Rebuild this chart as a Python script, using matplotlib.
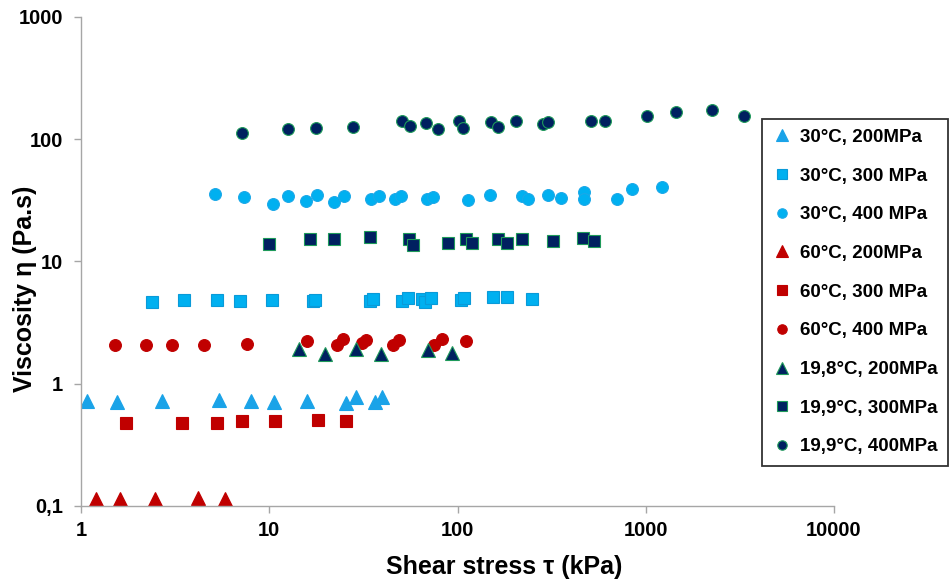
import matplotlib
matplotlib.use("Agg")
import matplotlib.pyplot as plt
from matplotlib.ticker import FixedLocator, NullLocator

plt.rcParams["font.family"] = ["Liberation Sans", "DejaVu Sans"]
plt.rcParams["font.weight"] = "bold"

LIGHT = "#00B0F0"
RED = "#C00000"
NAVY = "#002060"
EDGE_GREEN = "#1E9A5A"

# 30°C
t30_200_x = [1.08, 1.55, 2.69, 5.41, 8.0, 10.6, 15.9, 25.6, 28.9, 36.5, 39.7]
t30_200_y = [0.726, 0.713, 0.726, 0.740, 0.726, 0.713, 0.726, 0.700, 0.783, 0.713, 0.783]

t30_300_x = [2.39, 3.53, 5.28, 7.0, 10.4, 17.1, 17.5, 34.3, 35.6, 50.8, 54.6, 64.9, 67.3,
             72.4, 104, 108, 155, 184, 249]
t30_300_y = [4.68, 4.86, 4.86, 4.77, 4.86, 4.77, 4.86, 4.77, 4.95, 4.77, 5.05, 4.95, 4.68,
             5.05, 4.86, 5.05, 5.14, 5.14, 4.95]

t30_400_x = [5.15, 7.35, 10.5, 12.6, 15.7, 17.9, 22.1, 25.0, 34.7, 38.3, 46.6, 50.2, 68.9,
             74.2, 114, 149, 220, 237, 303, 355, 471, 471, 705, 847, 1222]
t30_400_y = [35.8, 33.8, 29.6, 34.5, 31.4, 35.1, 30.8, 34.5, 32.6, 34.5, 32.6, 34.5, 32.6,
             33.8, 32.0, 35.1, 34.5, 32.6, 35.1, 33.2, 37.2, 32.6, 32.6, 39.3, 40.8]

# 60°C
t60_200_x = [1.20, 1.61, 2.47, 4.19, 5.82]
t60_200_y = [0.113, 0.114, 0.115, 0.117, 0.115]

t60_300_x = [1.73, 3.44, 5.28, 7.17, 10.7, 18.2, 25.6]
t60_300_y = [0.480, 0.480, 0.480, 0.498, 0.498, 0.508, 0.498]

t60_400_x = [1.52, 2.22, 3.04, 4.51, 7.62, 15.9, 22.9, 24.7, 31.1, 32.7, 45.5, 48.9, 75.1,
             82.8, 111]
t60_400_y = [2.08, 2.08, 2.08, 2.08, 2.12, 2.25, 2.08, 2.33, 2.16, 2.29, 2.08, 2.29, 2.08,
             2.33, 2.25]

# ~20°C
t20_200_x = [14.4, 19.8, 28.9, 39.3, 69.8, 93.6]
t20_200_y = [1.93, 1.76, 1.93, 1.76, 1.90, 1.79]

t20_300_x = [9.98, 16.5, 22.1, 34.3, 55.3, 58.1, 89.1, 111, 120, 164, 184, 220, 322, 465, 532]
t20_300_y = [14.0, 15.3, 15.3, 15.9, 15.3, 13.7, 14.2, 15.3, 14.2, 15.3, 14.2, 15.3, 14.8,
             15.6, 14.8]

t20_400_x = [7.17, 12.6, 17.7, 27.9, 50.8, 56.0, 68.1, 78.8, 102, 107, 151, 164, 205, 285,
             303, 512, 609, 1016, 1452, 2256, 3335]
t20_400_y = [113, 122, 124, 126, 141, 129, 136, 122, 141, 124, 139, 126, 141, 134, 139, 141,
             141, 155, 168, 174, 155]

series = [
    (t30_200_x, t30_200_y, "30°C, 200MPa", "^", "#1AA3E8", "#1AA3E8"),
    (t30_300_x, t30_300_y, "30°C, 300 MPa", "s", LIGHT, "#0A9AD8"),
    (t30_400_x, t30_400_y, "30°C, 400 MPa", "o", LIGHT, "#1AA8E8"),
    (t60_200_x, t60_200_y, "60°C, 200MPa", "^", RED, RED),
    (t60_300_x, t60_300_y, "60°C, 300 MPa", "s", RED, RED),
    (t60_400_x, t60_400_y, "60°C, 400 MPa", "o", RED, RED),
    (t20_200_x, t20_200_y, "19,8°C, 200MPa", "^", NAVY, EDGE_GREEN),
    (t20_300_x, t20_300_y, "19,9°C, 300MPa", "s", NAVY, EDGE_GREEN),
    (t20_400_x, t20_400_y, "19,9°C, 400MPa", "o", NAVY, EDGE_GREEN),
]

fig = plt.figure(figsize=(9.52, 5.84), dpi=100)
ax = fig.add_axes([0.0851, 0.1336, 0.791, 0.8373])

for x, y, label, m, fc, ec in series:
    size = 10 if m == "^" else 8.5
    ax.plot(x, y, linestyle="none", marker=m, markersize=size, markerfacecolor=fc,
            markeredgecolor=ec, markeredgewidth=0.8, label=label)

ax.set_xscale("log")
ax.set_yscale("log")
ax.set_xlim(1, 10000)
ax.set_ylim(0.1, 1000)

ax.xaxis.set_major_locator(FixedLocator([1, 10, 100, 1000, 10000]))
ax.yaxis.set_major_locator(FixedLocator([0.1, 1, 10, 100, 1000]))
ax.xaxis.set_minor_locator(NullLocator())
ax.yaxis.set_minor_locator(NullLocator())
ax.set_xticklabels(["1", "10", "100", "1000", "10000"])
ax.set_yticklabels(["0,1", "1", "10", "100", "1000"])

for s in ["top", "right"]:
    ax.spines[s].set_visible(False)
for s in ["left", "bottom"]:
    ax.spines[s].set_color("#A6A6A6")
    ax.spines[s].set_linewidth(1.0)
ax.tick_params(axis="both", which="major", direction="out", length=5, color="#A6A6A6",
               labelsize=14.5, width=1.0)
ax.tick_params(axis="y", pad=8)
ax.tick_params(axis="x", pad=6)
for t in ax.get_xticklabels() + ax.get_yticklabels():
    t.set_fontweight("bold")

ax.set_xlabel("Shear stress τ (kPa)", fontsize=18, fontweight="bold")
ax.set_ylabel("Viscosity η (Pa.s)", fontsize=18, fontweight="bold")
ax.xaxis.set_label_coords(0.562, -0.100)
ax.yaxis.set_label_coords(-0.059, 0.444)

leg = ax.legend(loc="upper left", bbox_to_anchor=(0.8004, 0.797),
                bbox_transform=fig.transFigure, frameon=True, fancybox=False,
                prop={"weight": "bold", "size": 13.5}, labelspacing=1.15,
                handlelength=1.0, handletextpad=0.5, borderpad=0.55, markerscale=0.8,
                borderaxespad=0)
leg.get_frame().set_edgecolor("black")
leg.get_frame().set_linewidth(1.3)

fig.savefig("out.png", dpi=100)
